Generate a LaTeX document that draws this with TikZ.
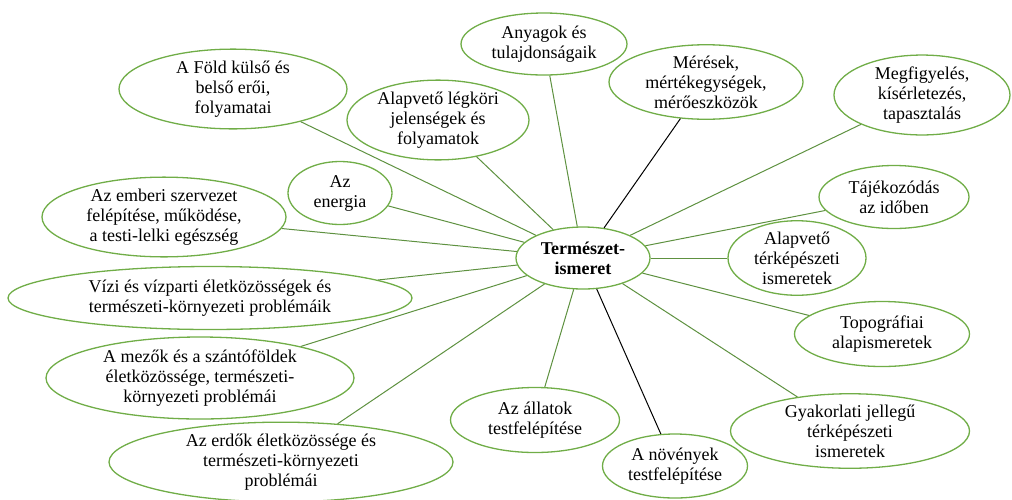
\documentclass[tikz,border=0pt]{standalone}
\usepackage{fontspec}
\setmainfont{Liberation Serif}
\usetikzlibrary{shapes.geometric}
\definecolor{ringgreen}{HTML}{70AD47}
\definecolor{linkgreen}{HTML}{5E9140}
\begin{document}
\begin{tikzpicture}[x=1pt,y=-1pt,
  topic/.style={ellipse, draw=ringgreen, line width=1.3pt, fill=white,
    inner sep=0pt, align=center, font=\fontsize{18}{20}\selectfont},
  link/.style={draw=linkgreen, line width=1pt},
  blacklink/.style={draw=black, line width=1pt}]
\useasboundingbox (0,0) rectangle (1012,499);

% centre
\node[topic, minimum width=134pt, minimum height=62pt,
  font=\fontsize{18}{20}\selectfont\bfseries] (c) at (583,258) {Természet-\\ismeret};

% surrounding topics
\node[topic, minimum width=166pt, minimum height=62pt] (anyag) at (544,44) {Anyagok és\\tulajdonságaik};
\node[topic, minimum width=194pt, minimum height=63pt] (meres) at (706,82) {Mérések,\\mértékegységek,\\mérőeszközök};
\node[topic, minimum width=176pt, minimum height=64pt] (megf) at (922,95) {Megfigyelés,\\kísérletezés,\\tapasztalás};
\node[topic, minimum width=150pt, minimum height=63pt] (ido) at (894,197) {Tájékozódás\\az időben};
\node[topic, minimum width=138pt, minimum height=64pt] (terk) at (797,258) {Alapvető\\térképészeti\\ismeretek};
\node[topic, minimum width=175pt, minimum height=65pt] (topo) at (882,334) {Topográfiai\\alapismeretek};
\node[topic, minimum width=239pt, minimum height=64pt] (gyak) at (850,431) {Gyakorlati jellegű\\térképészeti\\ismeretek};
\node[topic, minimum width=145pt, minimum height=64pt] (noveny) at (675,466) {A növények\\testfelépítése};
\node[topic, minimum width=169pt, minimum height=65pt] (allat) at (535,420) {Az állatok\\testfelépítése};
\node[topic, minimum width=344pt, minimum height=78pt] (erdo) at (281,462) {Az erdők életközössége és\\természeti-környezeti\\problémái};
\node[topic, minimum width=308pt, minimum height=82pt] (mezo) at (200,378) {A mezők és a szántóföldek\\életközössége, természeti-\\környezeti problémái};
\node[topic, minimum width=404pt, minimum height=63pt] (vizi) at (210,298) {Vízi és vízparti életközösségek és\\természeti-környezeti problémáik};
\node[topic, minimum width=244pt, minimum height=66pt] (ember) at (164,217) {Az emberi szervezet\\felépítése, működése,\\a testi-lelki egészség};
\node[topic, minimum width=104pt, minimum height=63pt] (energia) at (340,193) {Az\\energia};
\node[topic, minimum width=228pt, minimum height=64pt] (fold) at (233,89) {A Föld külső és\\belső erői,\\folyamatai};
\node[topic, minimum width=182pt, minimum height=64pt] (legkor) at (438,120) {Alapvető légköri\\jelenségek és\\folyamatok};

% connectors from the centre
\foreach \t in {anyag,megf,ido,terk,topo,gyak,allat,erdo,mezo,vizi,ember,energia,fold,legkor}
  \draw[link] (c) -- (\t);
\draw[blacklink] (c) -- (meres);
\draw[blacklink] (c) -- (noveny);
\end{tikzpicture}
\end{document}
